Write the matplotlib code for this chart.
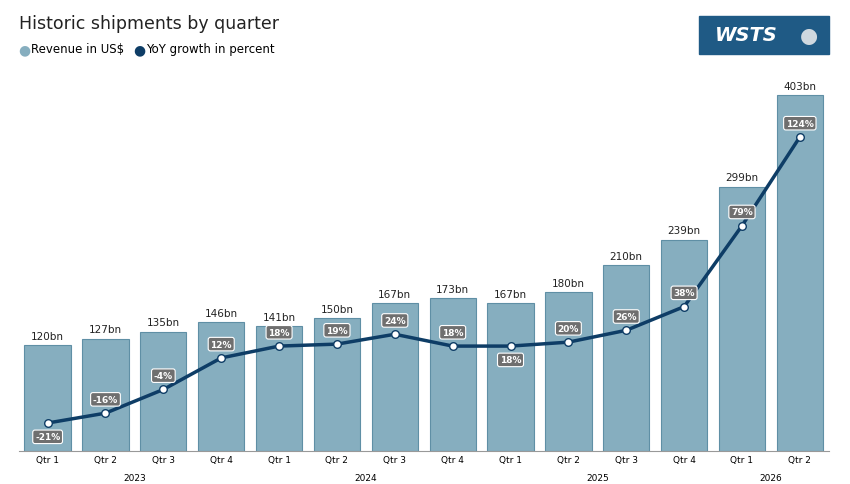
"""
Historic shipments chart

Draws quarterly revenue bars with YoY growth line on a secondary axis.
"""

import matplotlib.pyplot as plt
from matplotlib.patches import FancyBboxPatch
import numpy as np

QUARTERS = ["Qtr 1", "Qtr 2", "Qtr 3", "Qtr 4"] * 3 + ["Qtr 1", "Qtr 2"]
YEARS = [("2023", 1.5), ("2024", 5.5), ("2025", 9.5), ("2026", 12.5)]
REVENUE = [120, 127, 135, 146, 141, 150, 167, 173, 167, 180, 210, 239, 299, 403]
GROWTH = [-21, -16, -4, 12, 18, 19, 24, 18, 18, 20, 26, 38, 79, 124]
BELOW = {0, 8}  # labels placed under the point


def render_chart(path: str = "out.png"):
    """Render the chart and save it"""
    fig = plt.figure(figsize=(8.5, 4.85), dpi=100)
    ax = fig.add_axes([0.022, 0.068, 0.953, 0.767])
    x = np.arange(len(REVENUE))

    # Revenue bars
    ax.bar(x, REVENUE, width=0.8, color="#86aebf", edgecolor="#5f8fa5", linewidth=0.8)
    for xi, v in zip(x, REVENUE):
        ax.text(xi, v + 5, f"{v}bn", ha="center", va="bottom", fontsize=7.5, color="#222222")
    ax.set_xlim(-0.5, len(REVENUE) - 0.5)
    ax.set_ylim(0, 421)
    ax.set_yticks([])
    ax.set_xticks(x)
    ax.set_xticklabels(QUARTERS, fontsize=6.5)
    ax.tick_params(axis="x", length=0, pad=3)
    for side in ["top", "right", "left"]:
        ax.spines[side].set_visible(False)
    ax.spines["bottom"].set_color("#999999")
    for year, pos in YEARS:
        ax.annotate(year, (pos, 0), xycoords=("data", "axes fraction"),
                    xytext=(0, -16), textcoords="offset points",
                    ha="center", va="top", fontsize=6.5)

    # Growth line
    ax2 = ax.twinx()
    ax2.set_ylim(-35.2, 153.4)
    ax2.plot(x, GROWTH, color="#0e3d66", linewidth=2.5, zorder=3)
    ax2.scatter(x, GROWTH, s=30, color="white", edgecolor="#0e3d66", linewidth=1, zorder=4)
    for i, (xi, g) in enumerate(zip(x, GROWTH)):
        dy = -7 if i in BELOW else 7
        ax2.text(xi, g + dy, f"{g}%", ha="center", va="center", fontsize=6.5,
                 color="white", fontweight="bold", zorder=5,
                 bbox=dict(boxstyle="round,pad=0.25", fc="#6f6f6f", ec="white", lw=0.8))
    ax2.axis("off")

    # Title and legend
    fig.text(0.022, 0.97, "Historic shipments by quarter", fontsize=12.5, va="top", color="#222222")
    fig.text(0.022, 0.897, "●", color="#86aebf", fontsize=10, va="center")
    fig.text(0.037, 0.897, "Revenue in US$", fontsize=8.5, va="center")
    fig.text(0.157, 0.897, "●", color="#0e3d66", fontsize=10, va="center")
    fig.text(0.172, 0.897, "YoY growth in percent", fontsize=8.5, va="center")

    # Logo
    logo = FancyBboxPatch((0.822, 0.887), 0.153, 0.078, boxstyle="square,pad=0",
                          transform=fig.transFigure, fc="#1f5a85", ec="#1f5a85")
    fig.patches.append(logo)
    fig.text(0.878, 0.926, "WSTS", color="white", fontsize=14, fontweight="bold",
             ha="center", va="center", style="italic")
    fig.text(0.952, 0.926, "●", color="#cfd8df", fontsize=15, ha="center", va="center")

    fig.savefig(path, dpi=100, facecolor="white")
    return path


render_chart("out.png")
